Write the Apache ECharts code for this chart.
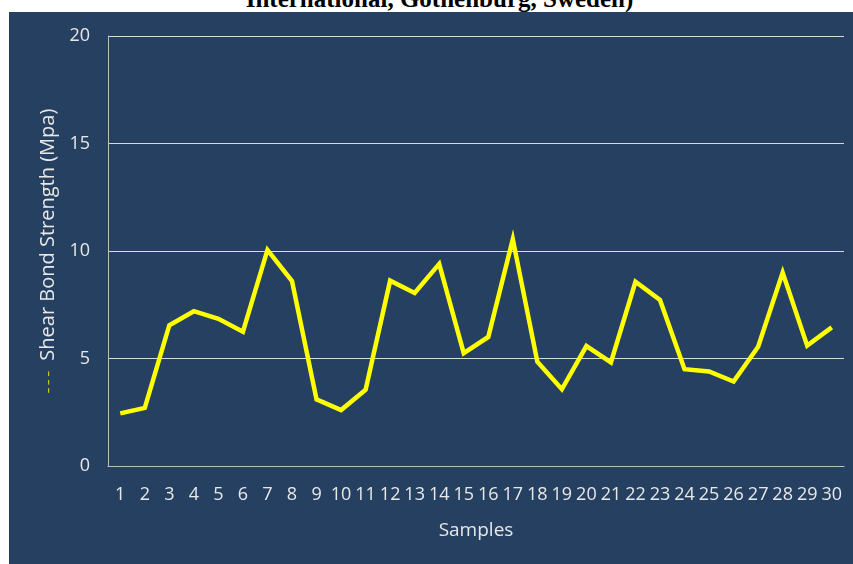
<!DOCTYPE html>
<html>
<head>
<meta charset="utf-8">
<script src="https://cdn.jsdelivr.net/npm/echarts@6/dist/echarts.min.js"></script>
<style>
html,body{margin:0;padding:0;background:#ffffff;}
#wrap{position:relative;width:853px;height:564px;overflow:hidden;background:#ffffff;}
#panel{position:absolute;left:9px;top:12px;width:844px;height:552px;background:#254061;}
#head{position:absolute;left:0;width:853px;top:-15px;text-align:center;font:bold 25px "Liberation Serif","DejaVu Serif",serif;color:#000;white-space:nowrap;padding-left:26px;box-sizing:border-box;}
#chart{position:absolute;left:0;top:0;width:853px;height:564px;}
</style>
</head>
<body>
<div id="wrap">
<div id="head">International, Gothenburg, Sweden)</div>
<div id="panel"></div>
<div id="chart"></div>
</div>
<script>
var samples = ['1','2','3','4','5','6','7','8','9','10','11','12','13','14','15','16','17','18','19','20','21','22','23','24','25','26','27','28','29','30'];
var shearBondStrength = [2.45, 2.7, 6.55, 7.2, 6.85, 6.25, 10.05, 8.6, 3.1, 2.6, 3.55, 8.62, 8.05, 9.4, 5.25, 6.0, 10.55, 4.85, 3.57, 5.58, 4.82, 8.57, 7.72, 4.5, 4.4, 3.93, 5.55, 9.0, 5.6, 6.45];
var yTicks = {min: 0, max: 20, interval: 5};
var xTitle = 'Samples';
var yTitle = 'Shear Bond Strength (Mpa)';

var chart = echarts.init(document.getElementById('chart'), null, {renderer: 'canvas'});
var fontFam = '"Open Sans","Noto Sans",sans-serif';
chart.setOption({
  backgroundColor: 'transparent',
  animation: false,
  grid: {left: 108, right: 9, top: 36, bottom: 98, containLabel: false},
  xAxis: {
    type: 'category',
    data: samples,
    boundaryGap: true,
    axisLine: {show: true, lineStyle: {color: '#bfbfbf', width: 1}},
    axisTick: {show: false},
    axisLabel: {interval: 0, color: '#e8e8e8', fontSize: 18, fontFamily: fontFam, margin: 20},
    name: xTitle,
    nameLocation: 'middle',
    nameGap: 55,
    nameTextStyle: {color: '#e8e8e8', fontSize: 19, fontFamily: fontFam}
  },
  yAxis: {
    type: 'value',
    min: yTicks.min, max: yTicks.max, interval: yTicks.interval,
    axisLine: {show: true, lineStyle: {color: '#bfbfbf', width: 1}},
    axisTick: {show: false},
    splitLine: {show: true, lineStyle: {color: '#d9d9d9', width: 1}},
    axisLabel: {color: '#e8e8e8', fontSize: 18, fontFamily: fontFam, margin: 18},
    name: '{k|\u2013 \u2013 \u2013}  ' + yTitle,
    nameLocation: 'middle',
    nameGap: 50,
    nameTextStyle: {
      color: '#e8e8e8', fontSize: 20, fontFamily: fontFam,
      rich: {k: {color: '#c8c810', fontSize: 11, fontFamily: fontFam, fontWeight: 'bold'}}
    }
  },
  series: [{
    type: 'line',
    data: shearBondStrength,
    showSymbol: false,
    symbol: 'none',
    lineStyle: {color: '#ffff00', width: 4.5, join: 'miter'},
    itemStyle: {color: '#ffff00'}
  }]
});
</script>
</body>
</html>
